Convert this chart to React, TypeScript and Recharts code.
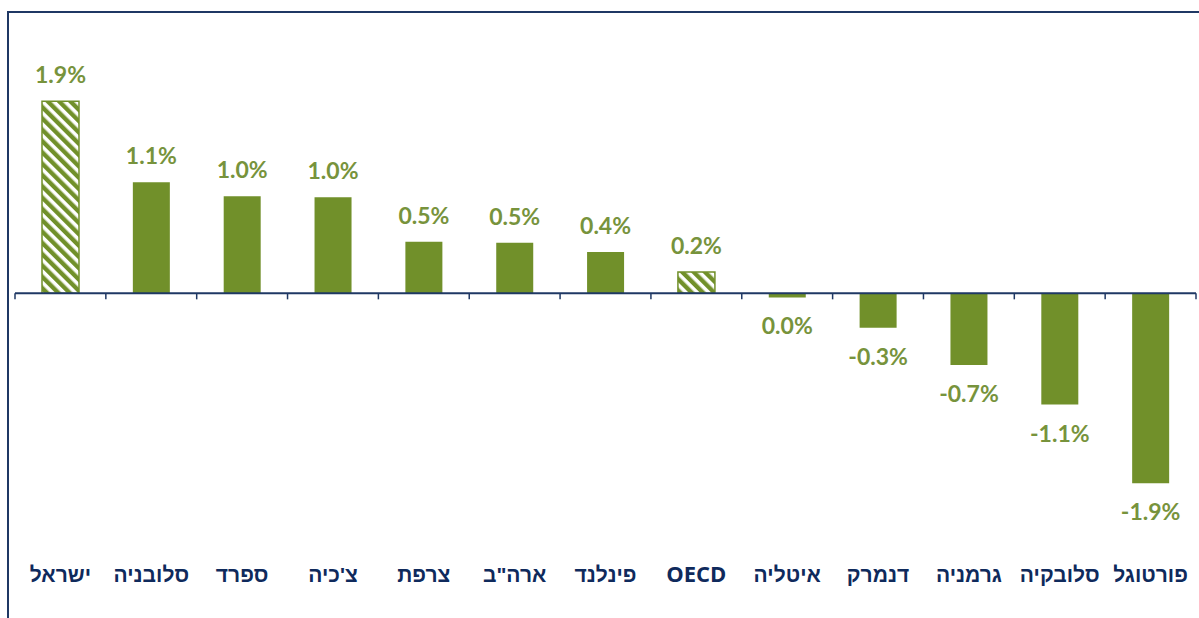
import React from "react";
import { BarChart, Bar, XAxis, YAxis, Cell, LabelList, ReferenceLine } from "recharts";

const countries = [
  "ישראל",
  "סלובניה",
  "ספרד",
  "צ'כיה",
  "צרפת",
  'ארה"ב',
  "פינלנד",
  "OECD",
  "איטליה",
  "דנמרק",
  "גרמניה",
  "סלובקיה",
  "פורטוגל",
];
const changes = [1.9, 1.1, 0.96, 0.95, 0.51, 0.5, 0.41, 0.21, -0.04, -0.34, -0.71, -1.1, -1.88];
const hatched = ["ישראל", "OECD"];

const data = countries.map((name, i) => ({ name, value: changes[i] }));

const GREEN = "#71902A";
const LABEL_GREEN = "#77933C";
const NAVY = "#1F3864";
const TEXT_NAVY = "#0F2A5C";

const fmt = (v: number) => (Math.round(v * 10) / 10).toFixed(1) + "%";

function ValueLabel(props: any) {
  const { x, y, width, height, value } = props;
  const top = Math.min(y, y + height);
  const bottom = Math.max(y, y + height);
  const ty = value >= 0 ? top - 18 : bottom + 37;
  return (
    <text
      x={x + width / 2}
      y={ty}
      textAnchor="middle"
      fill={LABEL_GREEN}
      fontFamily="Lato, sans-serif"
      fontWeight={700}
      fontSize={23}
    >
      {fmt(value)}
    </text>
  );
}

function CountryTick(props: any) {
  const { x, y, payload } = props;
  const latin = /^[A-Z]+$/.test(payload.value);
  return (
    <text
      x={x}
      y={y}
      dy={28}
      textAnchor="middle"
      fill={TEXT_NAVY}
      fontFamily={latin ? "'Open Sans', sans-serif" : "'Liberation Sans', Arial, sans-serif"}
      fontWeight={700}
      fontSize={latin ? 22 : 21}
    >
      {payload.value}
    </text>
  );
}

function ZeroTicks(props: any) {
  const vb = props.viewBox || {};
  const n = countries.length;
  const step = vb.width / n;
  const marks = [];
  for (let i = 0; i <= n; i++) {
    const tx = vb.x + i * step;
    marks.push(<line key={i} x1={tx} x2={tx} y1={vb.y} y2={vb.y + 6} stroke={NAVY} strokeWidth={1.5} />);
  }
  return <g>{marks}</g>;
}

export default function App() {
  return (
    <div style={{ position: "absolute", left: 0, top: 0, width: 1199, height: 618, background: "#fff" }}>
      <div style={{ position: "absolute", left: 7, top: 11, right: 0, height: 2, background: NAVY }} />
      <div style={{ position: "absolute", left: 7, top: 11, bottom: 0, width: 2, background: NAVY }} />
      <BarChart
        width={1199}
        height={618}
        data={data}
        margin={{ top: 71, right: 3, left: 15, bottom: 42 }}
        barSize={37}
      >
        <defs>
          <pattern id="hatch" patternUnits="userSpaceOnUse" width={8} height={8} patternTransform="rotate(-45)">
            <rect width={8} height={8} fill="#fff" />
            <rect width={4.4} height={8} fill={GREEN} />
          </pattern>
        </defs>
        <XAxis dataKey="name" axisLine={false} tickLine={false} tick={<CountryTick />} interval={0} height={30} />
        <YAxis hide domain={[-2.5, 2.2]} />
        <Bar dataKey="value" isAnimationActive={false}>
          {data.map((d, i) =>
            hatched.includes(d.name) ? (
              <Cell key={i} fill="url(#hatch)" stroke={GREEN} strokeWidth={1.5} />
            ) : (
              <Cell key={i} fill={GREEN} />
            )
          )}
          <LabelList dataKey="value" content={<ValueLabel />} />
        </Bar>
        <ReferenceLine y={0} stroke={NAVY} strokeWidth={2} label={<ZeroTicks />} />
      </BarChart>
    </div>
  );
}
